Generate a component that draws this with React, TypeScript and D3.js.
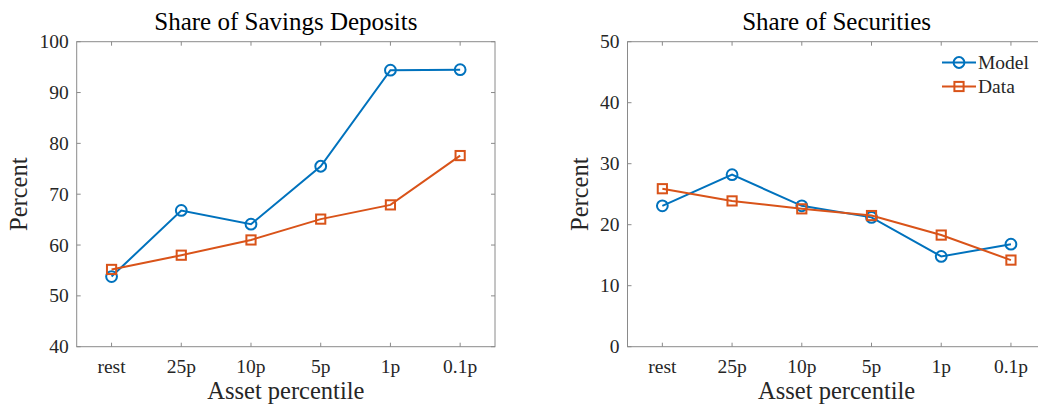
import React from "react";
import * as d3 from "d3";

const categories = ["rest", "25p", "10p", "5p", "1p", "0.1p"];

const savingsModel = [53.8, 66.8, 64.1, 75.5, 94.4, 94.5];
const savingsData = [55.2, 58.0, 61.0, 65.1, 67.9, 77.6];

const securitiesModel = [23.1, 28.2, 23.1, 21.2, 14.8, 16.8];
const securitiesData = [25.9, 23.9, 22.6, 21.5, 18.3, 14.2];

const savingsTicks = [40, 50, 60, 70, 80, 90, 100];
const securitiesTicks = [0, 10, 20, 30, 40, 50];

const BLUE = "#0072BD";
const ORANGE = "#D95319";
const AXIS = "#8a8a8a";
const TEXT = "#262626";
const FONT = "'Liberation Serif', 'Times New Roman', serif";

type PanelProps = {
  left: number;
  title: string;
  domain: [number, number];
  ticks: number[];
  model: number[];
  data: number[];
  ylabelX: number;
  legend?: boolean;
};

const TOP = 41.7;
const BOTTOM = 346.7;
const WIDTH = 418.3;
const TICK = 4;

function Panel({ left, title, domain, ticks, model, data, ylabelX, legend }: PanelProps) {
  const right = left + WIDTH;
  const x = d3.scaleLinear().domain([0.5, categories.length + 0.5]).range([left, right]);
  const y = d3.scaleLinear().domain(domain).range([BOTTOM, TOP]);
  const line = d3
    .line<number>()
    .x((_, i) => x(i + 1))
    .y((v) => y(v));
  const midX = (left + right) / 2;
  const sq = 4.6;

  return (
    <g>
      <text x={midX} y={30} textAnchor="middle" fontFamily={FONT} fontSize={25} fill="#000">
        {title}
      </text>
      {/* axes box */}
      <rect x={left} y={TOP} width={WIDTH} height={BOTTOM - TOP} fill="none" stroke={AXIS} strokeWidth={1} />
      {/* x ticks and labels */}
      {categories.map((c, i) => (
        <g key={c}>
          <line x1={x(i + 1)} x2={x(i + 1)} y1={BOTTOM} y2={BOTTOM - TICK} stroke={AXIS} />
          <line x1={x(i + 1)} x2={x(i + 1)} y1={TOP} y2={TOP + TICK} stroke={AXIS} />
          <text x={x(i + 1)} y={372.5} textAnchor="middle" fontFamily={FONT} fontSize={19.5} fill={TEXT}>
            {c}
          </text>
        </g>
      ))}
      {/* y ticks and labels */}
      {ticks.map((t) => (
        <g key={t}>
          <line x1={left} x2={left + TICK} y1={y(t)} y2={y(t)} stroke={AXIS} />
          <line x1={right} x2={right - TICK} y1={y(t)} y2={y(t)} stroke={AXIS} />
          <text x={left - 8} y={y(t)} dy="0.34em" textAnchor="end" fontFamily={FONT} fontSize={19.5} fill={TEXT}>
            {t}
          </text>
        </g>
      ))}
      <text x={midX} y={398.5} textAnchor="middle" fontFamily={FONT} fontSize={24.5} fill={TEXT}>
        Asset percentile
      </text>
      <text
        transform={`translate(${ylabelX},${(TOP + BOTTOM) / 2}) rotate(-90)`}
        textAnchor="middle"
        fontFamily={FONT}
        fontSize={24.5}
        fill={TEXT}
      >
        Percent
      </text>
      {/* model series */}
      <path d={line(model) ?? ""} fill="none" stroke={BLUE} strokeWidth={2} />
      {model.map((v, i) => (
        <circle key={i} cx={x(i + 1)} cy={y(v)} r={5.4} fill="none" stroke={BLUE} strokeWidth={2} />
      ))}
      {/* data series */}
      <path d={line(data) ?? ""} fill="none" stroke={ORANGE} strokeWidth={2} />
      {data.map((v, i) => (
        <rect key={i} x={x(i + 1) - sq} y={y(v) - sq} width={sq * 2} height={sq * 2} fill="none" stroke={ORANGE} strokeWidth={2} />
      ))}
      {legend && (
        <g>
          <line x1={942} x2={976} y1={62.5} y2={62.5} stroke={BLUE} strokeWidth={2} />
          <circle cx={959} cy={62.5} r={5.4} fill="none" stroke={BLUE} strokeWidth={2} />
          <text x={978} y={62.5} dy="0.34em" fontFamily={FONT} fontSize={19.5} fill={TEXT}>
            Model
          </text>
          <line x1={942} x2={976} y1={86.5} y2={86.5} stroke={ORANGE} strokeWidth={2} />
          <rect x={959 - sq} y={86.5 - sq} width={sq * 2} height={sq * 2} fill="none" stroke={ORANGE} strokeWidth={2} />
          <text x={978} y={86.5} dy="0.34em" fontFamily={FONT} fontSize={19.5} fill={TEXT}>
            Data
          </text>
        </g>
      )}
    </g>
  );
}

export default function App() {
  return (
    <svg
      width={1038}
      height={404}
      style={{ position: "absolute", left: 0, top: 0, background: "#fff" }}
    >
      <rect width={1038} height={404} fill="#fff" />
      <Panel
        left={76.7}
        title="Share of Savings Deposits"
        domain={[40, 100]}
        ticks={savingsTicks}
        model={savingsModel}
        data={savingsData}
        ylabelX={27}
      />
      <Panel
        left={627.5}
        title="Share of Securities"
        domain={[0, 50]}
        ticks={securitiesTicks}
        model={securitiesModel}
        data={securitiesData}
        ylabelX={588}
        legend
      />
    </svg>
  );
}
